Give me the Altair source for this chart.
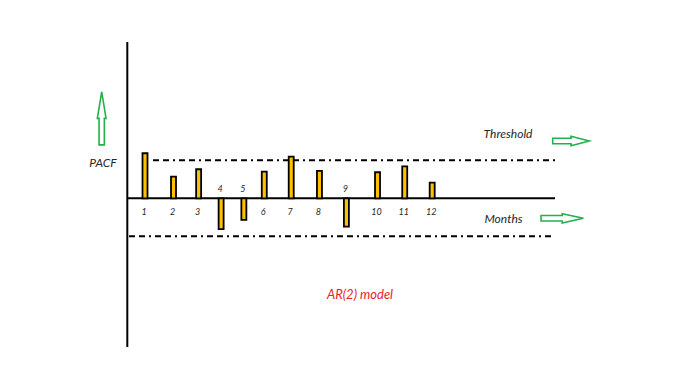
import altair as alt
import pandas as pd

# ---- data ----
lags = [1, 2, 3, 4, 5, 6, 7, 8, 9, 10, 11, 12]
lag_pos = [1.0, 2.09, 3.05, 3.91, 4.78, 5.56, 6.59, 7.67, 8.70, 9.89, 10.93, 11.98]
pacf = [0.237, 0.114, 0.153, -0.162, -0.114, 0.14, 0.219, 0.144, -0.149, 0.137, 0.168, 0.082]
threshold = 0.2

df = pd.DataFrame({"lag": lags, "pos": lag_pos, "pacf": pacf,
                   "label": [str(l) for l in lags]})

# ---- layout ----
W, H = 672, 360
px_per_lag = 26.55
x0 = 1 - 134 / px_per_lag
xscale = alt.Scale(domain=[x0, x0 + W / px_per_lag], nice=False, zero=False)
px_per_unit = 190
ytop = 190.3 / px_per_unit
yscale = alt.Scale(domain=[ytop - H / px_per_unit, ytop], nice=False, zero=False)

FONT = "Lato"
TXT = "#262626"
GREEN = "#22B14C"

bars = alt.Chart(df).mark_bar(size=5, color="#FFC000", stroke="black",
                              strokeWidth=1.8).encode(
    x=alt.X("pos:Q", scale=xscale, axis=None),
    y=alt.Y("pacf:Q", scale=yscale, axis=None),
    y2=alt.datum(0),
)

lab_pos = alt.Chart(df).transform_filter("datum.pacf > 0").mark_text(
    font=FONT, fontStyle="italic", fontSize=9, color=TXT, dy=14, dx=-1).encode(
    x=alt.X("pos:Q", scale=xscale, axis=None),
    y=alt.Y("zero:Q", scale=yscale, axis=None),
    text="label:N",
).transform_calculate(zero="0")

lab_neg = alt.Chart(df).transform_filter("datum.pacf < 0").mark_text(
    font=FONT, fontStyle="italic", fontSize=9, color=TXT, dy=-9, dx=-1).encode(
    x=alt.X("pos:Q", scale=xscale, axis=None),
    y=alt.Y("zero:Q", scale=yscale, axis=None),
    text="label:N",
).transform_calculate(zero="0")

base = alt.Chart(pd.DataFrame({"y": [0]})).mark_rule(color="black", strokeWidth=2).encode(
    y=alt.Y("y:Q", scale=yscale, axis=None),
    x=alt.value(127 - 8), x2=alt.value(555 - 8),
)

thr_up = alt.Chart(pd.DataFrame({"y": [threshold]})).mark_rule(
    color="black", strokeWidth=2, strokeDash=[6, 4, 6, 4, 2, 4]).encode(
    y=alt.Y("y:Q", scale=yscale, axis=None),
    x=alt.value(153 - 8), x2=alt.value(555 - 8),
)
thr_dn = alt.Chart(pd.DataFrame({"y": [-threshold]})).mark_rule(
    color="black", strokeWidth=2, strokeDash=[6, 4, 6, 4, 2, 4]).encode(
    y=alt.Y("y:Q", scale=yscale, axis=None),
    x=alt.value(129 - 8), x2=alt.value(555 - 8),
)

vaxis = alt.Chart(pd.DataFrame({"a": [0]})).mark_rule(color="black", strokeWidth=2).encode(
    x=alt.value(127.3 - 8), y=alt.value(42 - 8), y2=alt.value(347 - 8),
)

one = pd.DataFrame({"a": [0]})

def label(txt, x, y, color=TXT, size=12):
    return alt.Chart(one).mark_text(font=FONT, fontStyle="italic", fontSize=size,
                                    color=color).encode(
        x=alt.value(x - 8), y=alt.value(y - 8), text=alt.value(txt))

up_path = "M 0 -1 L 0.165 0 L 0.1 0 L 0.1 1 L -0.1 1 L -0.1 0 L -0.165 0 Z"
r1_path = "M -1 -0.15 L 0 -0.15 L 0 -0.26 L 1 0 L 0 0.26 L 0 0.15 L -1 0.15 Z"
r2_path = "M -1 -0.13 L 0 -0.13 L 0 -0.22 L 1 0 L 0 0.22 L 0 0.13 L -1 0.13 Z"

def arrow(path, x, y, length):
    return alt.Chart(one).mark_point(shape=path, filled=False, stroke=GREEN,
                                     strokeWidth=1.6, size=length ** 2, opacity=1).encode(
        x=alt.value(x - 8), y=alt.value(y - 8))

chart = alt.layer(
    vaxis, thr_up, thr_dn, base, bars, lab_pos, lab_neg,
    label("PACF", 103, 163),
    label("Threshold", 508, 134),
    label("Months", 503.5, 219),
    label("AR(2) model", 360, 295, color="#E8232B", size=13),
    arrow(up_path, 101.7, 118.4, 53),
    arrow(r1_path, 571, 141, 36.6),
    arrow(r2_path, 562.2, 218.3, 42.3),
).properties(
    width=W, height=H, autosize=alt.AutoSizeParams(type="none"), padding=0
).configure_view(stroke=None)

chart.save("out.html", embed_options={"renderer": "svg", "actions": False})
